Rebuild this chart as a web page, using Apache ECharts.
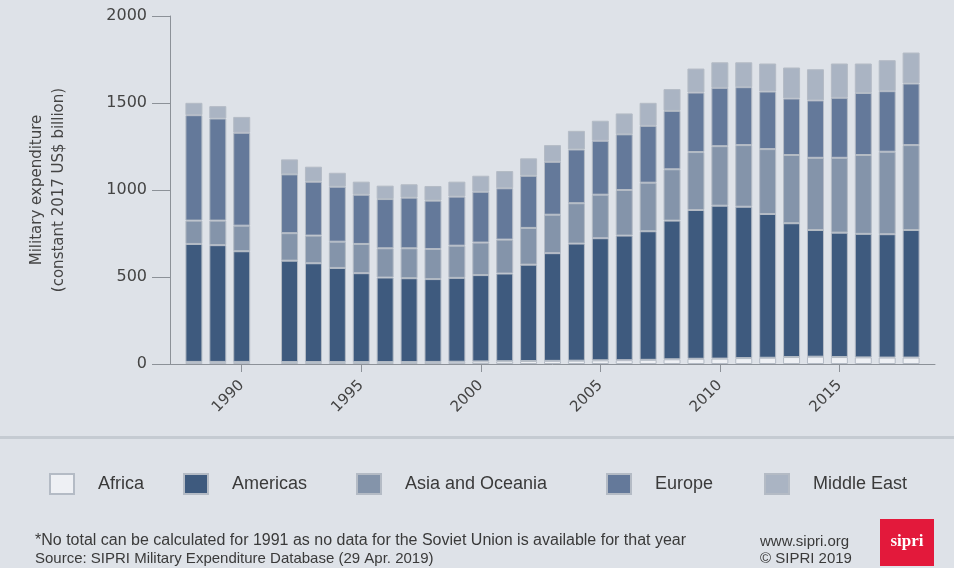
<!DOCTYPE html>
<html>
<head>
<meta charset="utf-8">
<script src="https://cdn.jsdelivr.net/npm/echarts@6/dist/echarts.min.js"></script>
<style>
  html, body { margin: 0; padding: 0; background: #dee2e8; }
  #chart { width: 954px; height: 568px; }
</style>
</head>
<body>
<div id="chart"></div>
<script>
// Categories (1987 and 2019 are empty padding slots; 1991 has no data)
const years = ['1987','1988','1989','1990','1991','1992','1993','1994','1995','1996','1997','1998','1999','2000','2001','2002','2003','2004','2005','2006','2007','2008','2009','2010','2011','2012','2013','2014','2015','2016','2017','2018','2019'];

const africa   = [null, 12, 12, 12, null, 11, 11, 11, 11, 11, 11, 12, 13, 15, 16, 17, 18, 19, 21, 22, 24, 27, 30, 31, 34, 36, 40, 42, 40, 38, 37, 37, null];
const americas = [null, 678, 671, 636, null, 583, 568, 541, 511, 486, 482, 476, 482, 496, 504, 554, 619, 673, 702, 716, 739, 797, 855, 879, 870, 826, 769, 728, 715, 710, 709, 733, null];
const asiaOceania = [null, 134, 141, 147, null, 158, 159, 151, 168, 168, 172, 173, 185, 187, 195, 211, 221, 232, 250, 262, 279, 295, 333, 342, 354, 373, 392, 415, 430, 453, 474, 488, null];
const europe   = [null, 606, 587, 534, null, 338, 310, 316, 283, 283, 291, 278, 282, 292, 295, 300, 304, 309, 310, 320, 327, 336, 342, 335, 333, 331, 325, 330, 345, 357, 348, 354, null];
const middleEast = [null, 71, 71, 91, null, 86, 86, 80, 75, 77, 77, 84, 86, 92, 99, 100, 96, 107, 115, 120, 132, 125, 138, 147, 143, 161, 178, 179, 197, 169, 178, 178, null];

const seriesNames = ['Africa', 'Americas', 'Asia and Oceania', 'Europe', 'Middle East'];
const seriesData = [africa, americas, asiaOceania, europe, middleEast];
const seriesColors = ['#eef0f4', '#3e5a7e', '#8494aa', '#64799a', '#aab4c3'];

const yTicks = { min: 0, max: 2000, interval: 500 };

const axisGray = '#8c9198';
const textColor = '#3a3a3a';
const font = "'Liberation Sans', Arial, sans-serif";
const axisFont = "'DejaVu Sans', Verdana, sans-serif";

const legendLefts = [49, 183, 356, 606, 764];

const chart = echarts.init(document.getElementById('chart'), null, { renderer: 'canvas' });

const option = {
  backgroundColor: '#dee2e8',
  animation: false,
  textStyle: { fontFamily: font },
  grid: { left: 170, top: 16, right: 19, bottom: 204, containLabel: false },
  legend: seriesNames.map((n, i) => ({
    data: [n],
    left: legendLefts[i],
    top: 473,
    padding: 0,
    icon: 'rect',
    itemWidth: 24,
    itemHeight: 20,
    selectedMode: false,
    textStyle: { fontSize: 18, color: textColor, fontFamily: font, padding: [0, 0, 0, 19] }
  })),
  xAxis: {
    type: 'category',
    data: years,
    boundaryGap: false,
    axisLine: { show: true, lineStyle: { color: axisGray, width: 1 } },
    axisTick: { show: true, length: 8, lineStyle: { color: axisGray }, interval: (i, v) => Number(v) % 5 === 0 },
    axisLabel: {
      interval: (i, v) => Number(v) % 5 === 0,
      rotate: 45, margin: 19, fontSize: 15, color: '#444', fontFamily: axisFont
    },
    splitLine: { show: false }
  },
  yAxis: {
    type: 'value',
    min: yTicks.min, max: yTicks.max, interval: yTicks.interval,
    name: 'Military expenditure\n(constant 2017 US$ billion)',
    nameLocation: 'middle',
    nameGap: 100,
    nameRotate: 90,
    nameTextStyle: { fontSize: 15, color: '#444', lineHeight: 22, fontFamily: axisFont, align: 'center' },
    axisLine: { show: true, lineStyle: { color: axisGray, width: 1 } },
    axisTick: { show: true, length: 18, lineStyle: { color: axisGray } },
    axisLabel: { margin: 23, fontSize: 16, color: '#444', fontFamily: axisFont, formatter: v => String(v) },
    splitLine: { show: false }
  },
  series: seriesNames.map((n, i) => ({
    name: n,
    type: 'bar',
    stack: 'total',
    data: seriesData[i],
    barWidth: 17,
    itemStyle: { color: seriesColors[i], borderColor: '#b4bbc5', borderWidth: 1 }
  })),
  graphic: [
    { type: 'rect', left: 0, top: 436, shape: { width: 954, height: 3 }, style: { fill: '#c5cbd2' }, silent: true },
    { type: 'text', left: 35, top: 533, style: { text: '*No total can be calculated for 1991 as no data for the Soviet Union is available for that year', font: "16px 'Liberation Sans', Arial, sans-serif", fill: textColor } },
    { type: 'text', left: 35, top: 551, style: { text: 'Source: SIPRI Military Expenditure Database (29 Apr. 2019)', font: "15px 'Liberation Sans', Arial, sans-serif", fill: textColor } },
    { type: 'text', left: 760, top: 534, style: { text: 'www.sipri.org', font: "15px 'Liberation Sans', Arial, sans-serif", fill: textColor } },
    { type: 'text', left: 760, top: 551, style: { text: '\u00A9 SIPRI 2019', font: "15px 'Liberation Sans', Arial, sans-serif", fill: textColor } },
    { type: 'rect', left: 880, top: 519, shape: { width: 54, height: 47 }, style: { fill: '#e3193b' } },
    { type: 'text', x: 907, y: 542, style: { text: 'sipri', font: "bold 17px 'Liberation Serif', 'DejaVu Serif', serif", fill: '#ffffff', align: 'center', verticalAlign: 'middle' } }
  ]
};

chart.setOption(option);
</script>
</body>
</html>
